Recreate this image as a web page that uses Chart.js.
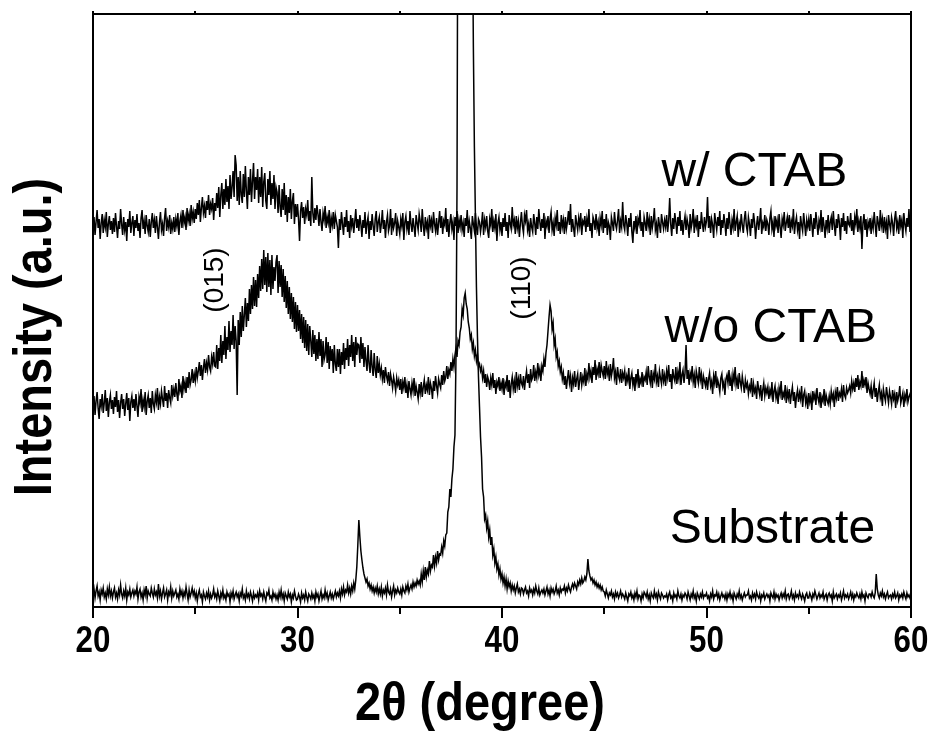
<!DOCTYPE html>
<html>
<head>
<meta charset="utf-8">
<script src="https://cdn.jsdelivr.net/npm/chart.js@4.4.1/dist/chart.umd.min.js"></script>
<style>
  html, body { margin: 0; padding: 0; background: #fff; }
</style>
</head>
<body>
<canvas id="xrd" width="934" height="734"></canvas>
<script>
// scan: 20 -> 60 deg, 0.05 deg per point, one row per degree
const scanStart = 20;
const scanStep = 0.05;

const withCtab = [
  376, 390, 372, 385, 397, 379, 388, 368, 384, 393, 374, 387, 380, 395, 370, 383, 391, 377, 386, 373,
  389, 375, 394, 381, 369, 386, 378, 398, 383, 372, 390, 377, 385, 366, 388, 380, 396, 374, 384, 391,
  371, 387, 379, 393, 376, 384, 369, 389, 397, 378, 386, 373, 392, 381, 375, 388, 370, 385, 394, 379,
  387, 374, 391, 380, 368, 385, 395, 377, 383, 371, 389, 399, 376, 386, 380, 392, 373, 384, 378, 390,
  375, 388, 381, 394, 372, 386, 392, 379, 397, 384, 390, 377, 399, 386, 393, 381, 402, 388, 395, 384,
  398, 388, 404, 392, 407, 385, 399, 410, 394, 401, 389, 406, 397, 412, 392, 403, 398, 409, 387, 404,
  396, 414, 399, 420, 390, 412, 424, 398, 418, 402, 428, 405, 421, 398, 432, 408, 420, 436, 410, 452,
  442, 406, 430, 402, 436, 412, 404, 433, 410, 441, 416, 398, 430, 412, 438, 405, 426, 444, 408, 430,
  417, 438, 404, 430, 410, 440, 400, 425, 434, 406, 398, 428, 412, 436, 402, 424, 408, 432, 398, 420,
  415, 394, 422, 400, 390, 418, 397, 424, 392, 412, 385, 410, 394, 418, 388, 406, 414, 383, 403, 390,
  403, 388, 366, 396, 405, 389, 400, 383, 398, 392, 407, 386, 396, 381, 430, 394, 384, 399, 387, 402,
  393, 381, 398, 385, 376, 394, 387, 401, 379, 390, 384, 397, 374, 389, 382, 395, 378, 392, 386, 380,
  359, 388, 377, 395, 383, 372, 390, 380, 397, 375, 386, 369, 392, 381, 389, 374, 385, 398, 379, 388,
  376, 392, 383, 370, 387, 379, 395, 373, 384, 390, 368, 386, 377, 393, 381, 371, 388, 396, 375, 385,
  390, 374, 383, 397, 378, 387, 369, 385, 392, 376, 381, 398, 372, 389, 379, 384, 394, 371, 386, 380,
  373, 388, 381, 394, 367, 385, 391, 378, 386, 372, 396, 383, 375, 389, 380, 370, 392, 384, 377, 393,
  386, 375, 398, 382, 371, 390, 379, 385, 368, 392, 381, 387, 374, 395, 383, 376, 389, 372, 384, 396,
  379, 391, 373, 386, 382, 399, 375, 388, 370, 384, 393, 378, 385, 367, 390, 381, 396, 374, 387, 380,
  392, 377, 384, 370, 389, 381, 397, 374, 386, 379, 368, 391, 383, 376, 394, 380, 372, 388, 385, 375,
  383, 395, 372, 387, 380, 391, 376, 369, 388, 382, 398, 375, 386, 379, 393, 366, 384, 390, 377, 385,
  371, 389, 380, 394, 376, 385, 369, 392, 383, 378, 400, 382, 387, 373, 391, 379, 386, 370, 384, 395,
  381, 374, 392, 386, 397, 377, 383, 370, 389, 380, 375, 393, 384, 372, 390, 378, 398, 385, 376, 388,
  379, 394, 368, 386, 381, 391, 374, 388, 395, 377, 384, 371, 389, 382, 397, 376, 385, 373, 392, 380,
  387, 373, 390, 378, 385, 396, 382, 403, 375, 388, 379, 370, 392, 384, 377, 389, 381, 394, 372, 386,
  383, 391, 375, 388, 380, 398, 376, 384, 369, 390, 386, 377, 393, 379, 385, 371, 389, 382, 396, 374,
  388, 379, 393, 372, 385, 381, 367, 390, 384, 376, 395, 383, 378, 387, 398, 374, 386, 380, 405, 382,
  377, 392, 384, 371, 389, 380, 394, 375, 364, 386, 379, 391, 373, 388, 383, 397, 376, 385, 370, 390,
  384, 376, 395, 381, 388, 372, 391, 379, 386, 399, 377, 383, 369, 390, 382, 374, 393, 385, 378, 387,
  380, 392, 375, 386, 409, 383, 371, 389, 378, 394, 385, 373, 390, 381, 396, 376, 387, 372, 384, 391,
  377, 388, 382, 369, 393, 379, 385, 398, 374, 387, 381, 392, 370, 386, 378, 395, 383, 375, 390, 380,
  386, 410, 379, 391, 374, 388, 382, 369, 394, 385, 377, 390, 381, 396, 372, 387, 379, 393, 384, 371,
  389, 378, 395, 383, 372, 387, 380, 398, 376, 385, 391, 370, 384, 379, 393, 382, 374, 388, 396, 381,
  375, 390, 383, 371, 388, 379, 394, 385, 368, 382, 391, 377, 386, 399, 373, 384, 380, 392, 376, 387,
  383, 372, 389, 396, 378, 385, 370, 391, 381, 387, 374, 393, 380, 369, 388, 382, 395, 376, 384, 390,
  379, 392, 374, 386, 381, 398, 373, 384, 390, 377, 385, 368, 391, 382, 376, 394, 383, 371, 387, 380,
  388, 376, 393, 383, 370, 389, 378, 395, 384, 372, 386, 380, 397, 375, 390, 381, 369, 387, 379, 392,
  374, 385, 390, 377, 396, 382, 371, 388, 379, 393, 384, 367, 389, 380, 394, 376, 386, 373, 391, 383,
  381, 394, 376, 387, 372, 390, 383, 398, 375, 386, 379, 391, 358, 384, 393, 377, 388, 370, 385, 380,
  389, 373, 386, 379, 395, 382, 370, 391, 384, 376, 397, 381, 388, 374, 390, 378, 385, 368, 392, 383,
  377, 390, 384, 371, 388, 396, 379, 385, 373, 392, 381, 387, 369, 394, 383, 376, 389, 380, 398, 375,
  386
];

const withoutCtab = [
  197, 211, 192, 206, 215, 199, 188, 208, 201, 213, 194, 204, 217, 196, 209, 190, 205, 212, 198, 207,
  193, 210, 200, 216, 195, 207, 189, 204, 213, 198, 208, 191, 203, 214, 197, 209, 186, 205, 211, 199,
  208, 196, 213, 201, 190, 210, 204, 218, 195, 207, 200, 215, 192, 206, 212, 199, 209, 194, 216, 203,
  198, 212, 205, 219, 197, 210, 203, 216, 208, 200, 221, 206, 214, 199, 217, 209, 204, 222, 211, 218,
  210, 224, 213, 206, 228, 216, 221, 209, 231, 218, 225, 214, 230, 219, 235, 222, 227, 238, 224, 233,
  226, 240, 229, 236, 245, 231, 242, 227, 239, 248, 234, 244, 237, 252, 240, 236, 250, 243, 255, 241,
  240, 262, 238, 259, 246, 272, 244, 266, 252, 281, 248, 270, 257, 286, 255, 276, 262, 292, 258, 281,
  266, 212, 287, 262, 295, 270, 301, 276, 292, 309, 280, 304, 286, 318, 293, 322, 298, 330, 301, 327,
  300, 333, 309, 341, 316, 348, 318, 357, 322, 350, 315, 354, 320, 347, 312, 352, 318, 340, 326, 345,
  352, 314, 346, 320, 342, 310, 338, 305, 331, 299, 326, 293, 320, 288, 314, 285, 310, 278, 305, 275,
  302, 276, 297, 268, 293, 264, 290, 259, 287, 256, 283, 252, 281, 266, 250, 277, 253, 272, 246, 268,
  248, 275, 251, 268, 240, 266, 247, 252, 270, 244, 265, 238, 261, 246, 258, 234, 262, 243, 236, 258,
  240, 258, 233, 255, 242, 264, 238, 259, 247, 268, 241, 262, 250, 272, 246, 265, 240, 270, 252, 263,
  262, 244, 270, 248, 264, 240, 260, 246, 236, 262, 243, 234, 257, 240, 231, 254, 237, 229, 251, 234,
  243, 232, 239, 228, 237, 224, 240, 231, 226, 235, 221, 233, 227, 219, 230, 224, 216, 229, 222, 227,
  217, 228, 213, 225, 219, 230, 214, 222, 209, 226, 218, 212, 224, 216, 229, 211, 221, 215, 208, 223,
  214, 225, 210, 220, 227, 213, 222, 217, 230, 212, 224, 219, 208, 226, 216, 231, 221, 214, 228, 223,
  219, 232, 222, 236, 226, 230, 241, 228, 237, 233, 245, 236, 248, 240, 252, 259, 250, 266, 262, 275,
  280, 298, 292, 309, 314, 303, 298, 285, 279, 268, 272, 258, 264, 251, 257, 246, 252, 240, 243, 236,
  240, 229, 236, 224, 233, 220, 230, 226, 217, 229, 222, 234, 219, 227, 213, 225, 221, 230, 216, 224,
  218, 229, 212, 224, 220, 232, 215, 227, 209, 223, 230, 218, 226, 214, 235, 221, 228, 217, 233, 224,
  221, 231, 217, 228, 236, 224, 233, 219, 238, 227, 230, 242, 226, 235, 229, 244, 232, 238, 226, 241,
  236, 248, 240, 254, 262, 276, 290, 302, 296, 278, 284, 262, 268, 250, 255, 241, 246, 235, 240, 228,
  234, 222, 231, 218, 228, 237, 224, 231, 215, 229, 223, 236, 220, 228, 233, 217, 226, 235, 222, 230,
  225, 239, 221, 233, 228, 244, 230, 236, 224, 240, 232, 247, 227, 238, 233, 245, 229, 242, 236, 231,
  241, 228, 246, 233, 238, 226, 243, 231, 237, 249, 229, 235, 222, 240, 231, 227, 238, 224, 234, 229,
  236, 221, 231, 226, 239, 218, 229, 234, 222, 230, 216, 233, 225, 238, 219, 228, 224, 235, 220, 230,
  227, 235, 222, 241, 230, 224, 237, 219, 233, 228, 243, 225, 231, 220, 236, 229, 223, 238, 226, 232,
  221, 236, 229, 242, 225, 233, 218, 238, 230, 226, 240, 223, 235, 228, 245, 222, 232, 237, 224, 234,
  262, 228, 237, 222, 234, 229, 241, 225, 232, 219, 236, 230, 224, 240, 227, 233, 218, 231, 226, 221,
  230, 217, 228, 234, 221, 226, 213, 231, 224, 236, 219, 227, 222, 215, 229, 233, 220, 225, 212, 228,
  232, 224, 237, 221, 229, 216, 233, 226, 240, 222, 228, 218, 234, 225, 219, 231, 223, 214, 227, 220,
  224, 213, 221, 217, 229, 210, 223, 215, 219, 208, 226, 218, 212, 222, 206, 217, 224, 211, 219, 214,
  220, 208, 217, 212, 225, 205, 216, 221, 209, 215, 203, 219, 213, 226, 207, 214, 210, 222, 204, 216,
  209, 218, 203, 213, 220, 206, 215, 199, 211, 217, 205, 214, 208, 221, 200, 212, 216, 204, 210, 198,
  214, 205, 211, 197, 216, 208, 213, 202, 219, 209, 204, 215, 199, 210, 206, 218, 201, 212, 207, 203,
  211, 203, 216, 208, 213, 200, 215, 209, 220, 206, 214, 211, 218, 205, 222, 212, 209, 219, 214, 217,
  221, 214, 226, 218, 224, 215, 229, 220, 232, 217, 225, 221, 236, 219, 227, 222, 230, 214, 224, 218,
  213, 221, 208, 217, 224, 210, 219, 205, 215, 222, 209, 214, 201, 218, 211, 206, 220, 212, 204, 216,
  210, 203, 217, 208, 213, 199, 215, 206, 211, 221, 204, 209, 214, 200, 212, 207, 218, 205, 210, 213,
  208
];

const substrate = [
  12, 18, 9, 16, 21, 11, 15, 7, 17, 13, 19, 10, 14, 8, 18, 12, 20, 11, 16, 9,
  15, 19, 10, 14, 8, 17, 12, 22, 13, 9, 16, 11, 19, 7, 15, 12, 18, 10, 14, 17,
  11, 16, 13, 20, 8, 15, 18, 10, 14, 7, 17, 12, 21, 9, 16, 13, 11, 19, 14, 10,
  18, 12, 15, 9, 23, 11, 16, 8, 14, 19, 10, 13, 17, 7, 15, 12, 20, 9, 16, 11,
  14, 17, 10, 13, 8, 18, 12, 16, 9, 15, 11, 20, 13, 7, 17, 10, 14, 19, 12, 16,
  9, 14, 6, 13, 17, 10, 12, 5, 15, 11, 8, 14, 10, 16, 7, 13, 9, 12, 18, 10,
  13, 8, 16, 11, 6, 14, 10, 17, 9, 12, 7, 15, 11, 13, 5, 14, 10, 16, 8, 12,
  15, 10, 13, 6, 14, 11, 18, 9, 12, 7, 16, 10, 13, 8, 15, 11, 6, 14, 9, 12,
  10, 14, 7, 16, 11, 13, 8, 15, 10, 6, 14, 12, 17, 9, 11, 7, 15, 10, 13, 8,
  12, 7, 15, 10, 17, 9, 13, 6, 14, 11, 8, 15, 10, 13, 5, 12, 9, 16, 11, 7,
  8, 13, 10, 5, 14, 9, 12, 7, 15, 10, 6, 13, 11, 8, 14, 9, 12, 6, 15, 10,
  13, 6, 11, 16, 8, 12, 9, 17, 10, 14, 7, 11, 15, 9, 13, 8, 12, 16, 10, 14,
  11, 16, 9, 18, 13, 20, 12, 17, 15, 22, 14, 19, 13, 21, 16, 24, 18, 27, 40, 62,
  87, 70, 56, 47, 39, 33, 29, 25, 28, 21, 24, 18, 22, 16, 20, 14, 19, 15, 21, 13,
  18, 13, 20, 11, 17, 14, 19, 12, 22, 15, 13, 18, 10, 16, 21, 12, 17, 14, 19, 15,
  13, 18, 12, 20, 16, 14, 21, 17, 23, 15, 19, 22, 18, 25, 20, 24, 21, 27, 23, 26,
  22, 33, 25, 36, 27, 40, 30, 37, 33, 46, 36, 42, 40, 52, 41, 50, 44, 56, 47, 53,
  52, 60, 54, 66, 61, 72, 74, 95, 100, 118, 110, 128, 138, 160, 172, 250, 420, 800, 1300, 1900,
  2500, 3000, 3500, 3800, 4000, 3900, 3600, 3000, 2200, 1500, 900, 700, 560, 460, 390, 320, 270, 230, 200, 170,
  150, 118, 110, 88, 92, 79, 86, 70, 77, 62, 70, 52, 58, 44, 50, 38, 43, 32, 38, 28,
  33, 24, 30, 21, 28, 18, 26, 20, 24, 16, 22, 17, 21, 14, 19, 23, 15, 18, 13, 19,
  18, 13, 17, 20, 14, 16, 11, 19, 15, 17, 12, 18, 14, 21, 16, 13, 19, 12, 15, 17,
  14, 18, 12, 16, 20, 13, 17, 11, 19, 15, 18, 13, 16, 21, 14, 17, 12, 19, 15, 18,
  17, 21, 14, 19, 16, 22, 18, 15, 20, 23, 19, 24, 21, 18, 25, 22, 27, 23, 29, 24,
  26, 30, 27, 33, 48, 36, 31, 27, 29, 24, 27, 22, 25, 20, 23, 19, 22, 17, 20, 16,
  15, 11, 17, 13, 9, 14, 12, 16, 10, 13, 8, 15, 11, 14, 9, 12, 16, 10, 13, 11,
  8, 14, 10, 6, 13, 11, 15, 9, 12, 7, 14, 10, 16, 8, 12, 11, 6, 13, 9, 15,
  13, 10, 15, 8, 12, 6, 14, 11, 9, 16, 10, 13, 7, 15, 11, 8, 14, 12, 9, 11,
  10, 13, 7, 12, 15, 9, 11, 6, 14, 10, 12, 8, 16, 11, 9, 13, 7, 12, 10, 14,
  12, 8, 15, 11, 7, 13, 10, 16, 9, 12, 6, 14, 11, 8, 13, 10, 15, 9, 12, 11,
  14, 9, 11, 6, 13, 10, 16, 8, 12, 11, 15, 9, 13, 7, 11, 14, 10, 12, 8, 13,
  7, 13, 10, 15, 9, 12, 6, 14, 11, 8, 13, 10, 16, 9, 12, 7, 11, 14, 10, 12,
  12, 16, 9, 11, 7, 14, 10, 13, 8, 15, 11, 9, 13, 6, 12, 10, 14, 8, 11, 13,
  10, 12, 6, 14, 11, 9, 15, 8, 13, 10, 12, 7, 11, 14, 9, 13, 10, 16, 8, 12,
  13, 8, 11, 16, 9, 12, 7, 14, 10, 12, 9, 15, 11, 8, 13, 10, 6, 12, 14, 9,
  9, 14, 11, 7, 13, 10, 16, 12, 8, 11, 14, 9, 12, 10, 15, 8, 11, 13, 7, 12,
  14, 10, 12, 6, 15, 9, 11, 13, 8, 12, 10, 14, 7, 11, 16, 9, 12, 10, 13, 8,
  11, 15, 9, 13, 7, 12, 10, 14, 11, 9, 13, 8, 15, 10, 12, 6, 14, 11, 9, 13,
  13, 10, 15, 11, 9, 14, 33, 18, 12, 9, 14, 11, 16, 10, 13, 8, 12, 15, 9, 11,
  12, 8, 13, 10, 15, 9, 11, 14, 7, 12, 10, 13, 9, 15, 11, 8, 14, 10, 12, 9,
  11
];

const majorTicks = [20, 30, 40, 50, 60];
const minorTicks = [25, 35, 45, 55];
const traceNames = ['w/ CTAB', 'w/o CTAB', 'Substrate'];
// where each sample name sits: [2theta of left edge, intensity at baseline]
const traceNameAt = [[47.8, 421], [47.95, 265], [48.2, 64]];
const peakNames = ['(015)', '(110)'];
const peakNameAt = [[26.0, 327], [41.0, 319]];

const sansFont = "'Liberation Sans', Arial, sans-serif";
const squeeze = 0.87; // the bold axis text is a narrow face

function toPoints(arr) {
  return arr.map((v, i) => ({ x: +(scanStart + i * scanStep).toFixed(2), y: v }));
}

function narrowText(ctx, text, x, y, rotate) {
  ctx.save();
  ctx.translate(x, y);
  if (rotate) ctx.rotate(rotate);
  ctx.scale(squeeze, 1);
  ctx.fillText(text, 0, 0);
  ctx.restore();
}

const framePlugin = {
  id: 'frame',
  afterDraw(chart) {
    const { ctx, chartArea: a, scales: { x, y } } = chart;
    ctx.save();
    ctx.strokeStyle = '#000';
    ctx.lineWidth = 2;
    ctx.strokeRect(a.left, a.top, a.right - a.left, a.bottom - a.top);

    ctx.beginPath();
    majorTicks.forEach(t => {
      const px = Math.round(x.getPixelForValue(t));
      ctx.moveTo(px, a.bottom); ctx.lineTo(px, a.bottom + 11);
    });
    minorTicks.forEach(t => {
      const px = Math.round(x.getPixelForValue(t));
      ctx.moveTo(px, a.bottom); ctx.lineTo(px, a.bottom + 7);
    });
    majorTicks.concat(minorTicks).forEach(t => {
      const px = Math.round(x.getPixelForValue(t));
      ctx.moveTo(px, a.top); ctx.lineTo(px, a.top - 3);
    });
    ctx.stroke();

    ctx.fillStyle = '#000';
    ctx.textAlign = 'center';
    ctx.textBaseline = 'alphabetic';

    // tick labels
    ctx.font = 'bold 36px ' + sansFont;
    majorTicks.forEach(t => narrowText(ctx, String(t), x.getPixelForValue(t), a.bottom + 45));

    // axis titles
    ctx.font = 'bold 54px ' + sansFont;
    narrowText(ctx, '2\u03B8 (degree)', 480, 720);
    narrowText(ctx, 'Intensity (a.u.)', 51, 337, -Math.PI / 2);

    // sample names
    ctx.font = '48px ' + sansFont;
    ctx.textAlign = 'left';
    traceNames.forEach((name, i) => {
      const [tx, ty] = traceNameAt[i];
      ctx.fillText(name, x.getPixelForValue(tx), y.getPixelForValue(ty));
    });

    // peak indices, rotated
    ctx.font = '28px ' + sansFont;
    ctx.textAlign = 'center';
    ctx.textBaseline = 'middle';
    peakNames.forEach((name, i) => {
      const [tx, ty] = peakNameAt[i];
      ctx.save();
      ctx.translate(x.getPixelForValue(tx), y.getPixelForValue(ty));
      ctx.rotate(-Math.PI / 2);
      ctx.fillText(name, 0, 0);
      ctx.restore();
    });
    ctx.restore();
  }
};

const lineStyle = { borderColor: '#000', borderWidth: 1.5, pointRadius: 0, tension: 0, fill: false };

new Chart(document.getElementById('xrd'), {
  type: 'line',
  data: {
    datasets: [
      { label: traceNames[0], data: toPoints(withCtab), ...lineStyle },
      { label: traceNames[1], data: toPoints(withoutCtab), ...lineStyle },
      { label: traceNames[2], data: toPoints(substrate), ...lineStyle }
    ]
  },
  options: {
    responsive: false,
    animation: false,
    devicePixelRatio: 1,
    layout: { padding: { left: 0, right: 23, top: 14, bottom: 0 } },
    plugins: { legend: { display: false }, tooltip: { enabled: false } },
    scales: {
      x: {
        type: 'linear',
        min: 20,
        max: 60,
        afterFit: s => { s.height = 127; },
        afterBuildTicks: s => { s.ticks = majorTicks.map(v => ({ value: v })); },
        ticks: { display: false },
        grid: { display: false },
        border: { display: true, width: 2, color: '#000' }
      },
      y: {
        min: 0,
        max: 593,
        afterFit: s => { s.width = 93; },
        ticks: { display: false },
        grid: { display: false },
        border: { display: true, width: 2, color: '#000' }
      }
    }
  },
  plugins: [framePlugin]
});
</script>
</body>
</html>
